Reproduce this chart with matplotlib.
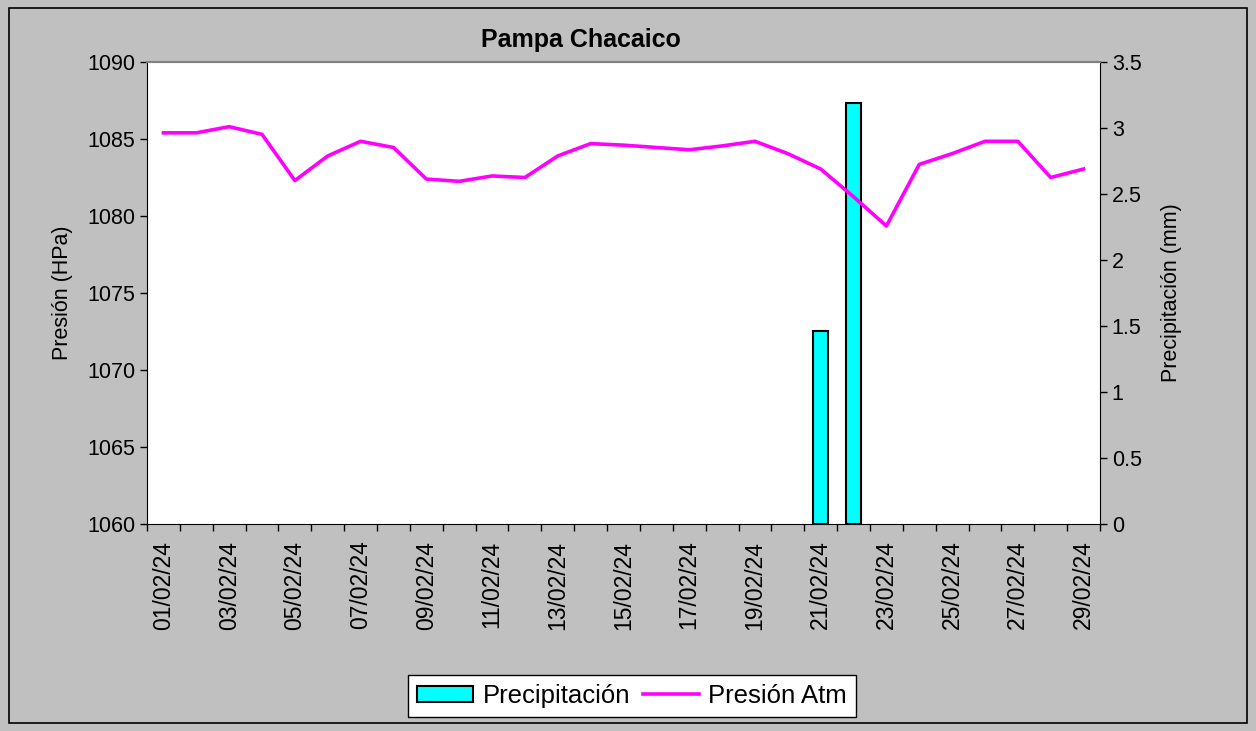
import numpy as np
import matplotlib
matplotlib.use("Agg")
import matplotlib.pyplot as plt
from matplotlib.patches import Patch, Rectangle
from matplotlib.lines import Line2D

plt.rcParams['font.family'] = ['Liberation Sans', 'DejaVu Sans']

# datos
dias = ["%02d/02/24" % d for d in range(1, 30)]
presion = [1085.4, 1085.4, 1085.8, 1085.3, 1082.3, 1083.9, 1084.85, 1084.45,
           1082.4, 1082.25, 1082.6, 1082.5, 1083.9, 1084.7, 1084.6, 1084.45,
           1084.3, 1084.55, 1084.85, 1084.05, 1083.05, 1081.25, 1079.35, 1083.35,
           1084.05, 1084.85, 1084.85, 1082.5, 1083.05]
precip = [0] * 20 + [1.46, 3.19] + [0] * 7

fig = plt.figure(figsize=(12.56, 7.31), dpi=100, facecolor='#c0c0c0')
fig.patches.append(Rectangle((9 / 1256, 1 - 723 / 731), 1238 / 1256, 715 / 731,
                             transform=fig.transFigure, fill=False,
                             edgecolor='black', linewidth=1.2))

ax = fig.add_axes([147 / 1256, 1 - 524 / 731, 953 / 1256, 462 / 731])
ax2 = ax.twinx()
ax.set_zorder(ax2.get_zorder() + 1)
ax.patch.set_visible(False)
ax2.patch.set_visible(True)
ax2.set_facecolor('white')

x = np.arange(len(dias))
pr = np.array(precip)
con_lluvia = pr > 0
ax2.bar(x[con_lluvia], pr[con_lluvia], width=0.46, color='#00ffff',
        edgecolor='black', linewidth=1.5)
ax.plot(x, presion, color='#ff00ff', linewidth=2.6)

ax.set_xlim(-0.5, len(dias) - 0.5)
ax.set_ylim(1060, 1090)
ax.set_yticks(np.arange(1060, 1091, 5))
ax2.set_ylim(0, 3.5)
ax2.set_yticks(np.arange(0, 3.51, 0.5))
ax2.set_yticklabels(['0', '0.5', '1', '1.5', '2', '2.5', '3', '3.5'])

ax.set_xticks(x[::2])
ax.set_xticklabels(dias[::2], rotation=90)
ax.set_xticks(np.arange(-0.5, len(dias)), minor=True)
ax.tick_params(axis='x', which='major', length=0, labelsize=16.5, pad=12)
ax.tick_params(axis='x', which='minor', length=5, direction='out', width=1)
ax.tick_params(axis='y', labelsize=15.5, length=5, direction='out', width=1)
ax2.tick_params(axis='y', labelsize=15.5, length=5, direction='out', width=1)

for a in (ax, ax2):
    a.spines['top'].set_color('#808080')
    a.spines['top'].set_linewidth(1.5)
ax.spines['right'].set_visible(False)
ax2.spines['left'].set_visible(False)
ax2.spines['bottom'].set_visible(False)

ax.set_ylabel("Presión (HPa)", fontsize=15.5, labelpad=10)
ax2.set_ylabel("Precipitación (mm)", fontsize=15.5, labelpad=14)
fig.text(581 / 1256, 1 - 40 / 731, "Pampa Chacaico", fontsize=18,
         fontweight='bold', ha='center', va='center')

handles = [Patch(facecolor='#00ffff', edgecolor='black', linewidth=1.5),
           Line2D([0], [0], color='#ff00ff', linewidth=2.6)]
fig.legend(handles, ["Precipitación", "Presión Atm"], loc='center',
           bbox_to_anchor=(632 / 1256, 1 - 696 / 731), ncol=2, fontsize=18.5,
           frameon=True, fancybox=False, edgecolor='black', framealpha=1,
           handlelength=2.2, handleheight=0.6, columnspacing=0.5,
           handletextpad=0.35, borderpad=0.35)

fig.savefig("out.png", dpi=100, facecolor=fig.get_facecolor())
